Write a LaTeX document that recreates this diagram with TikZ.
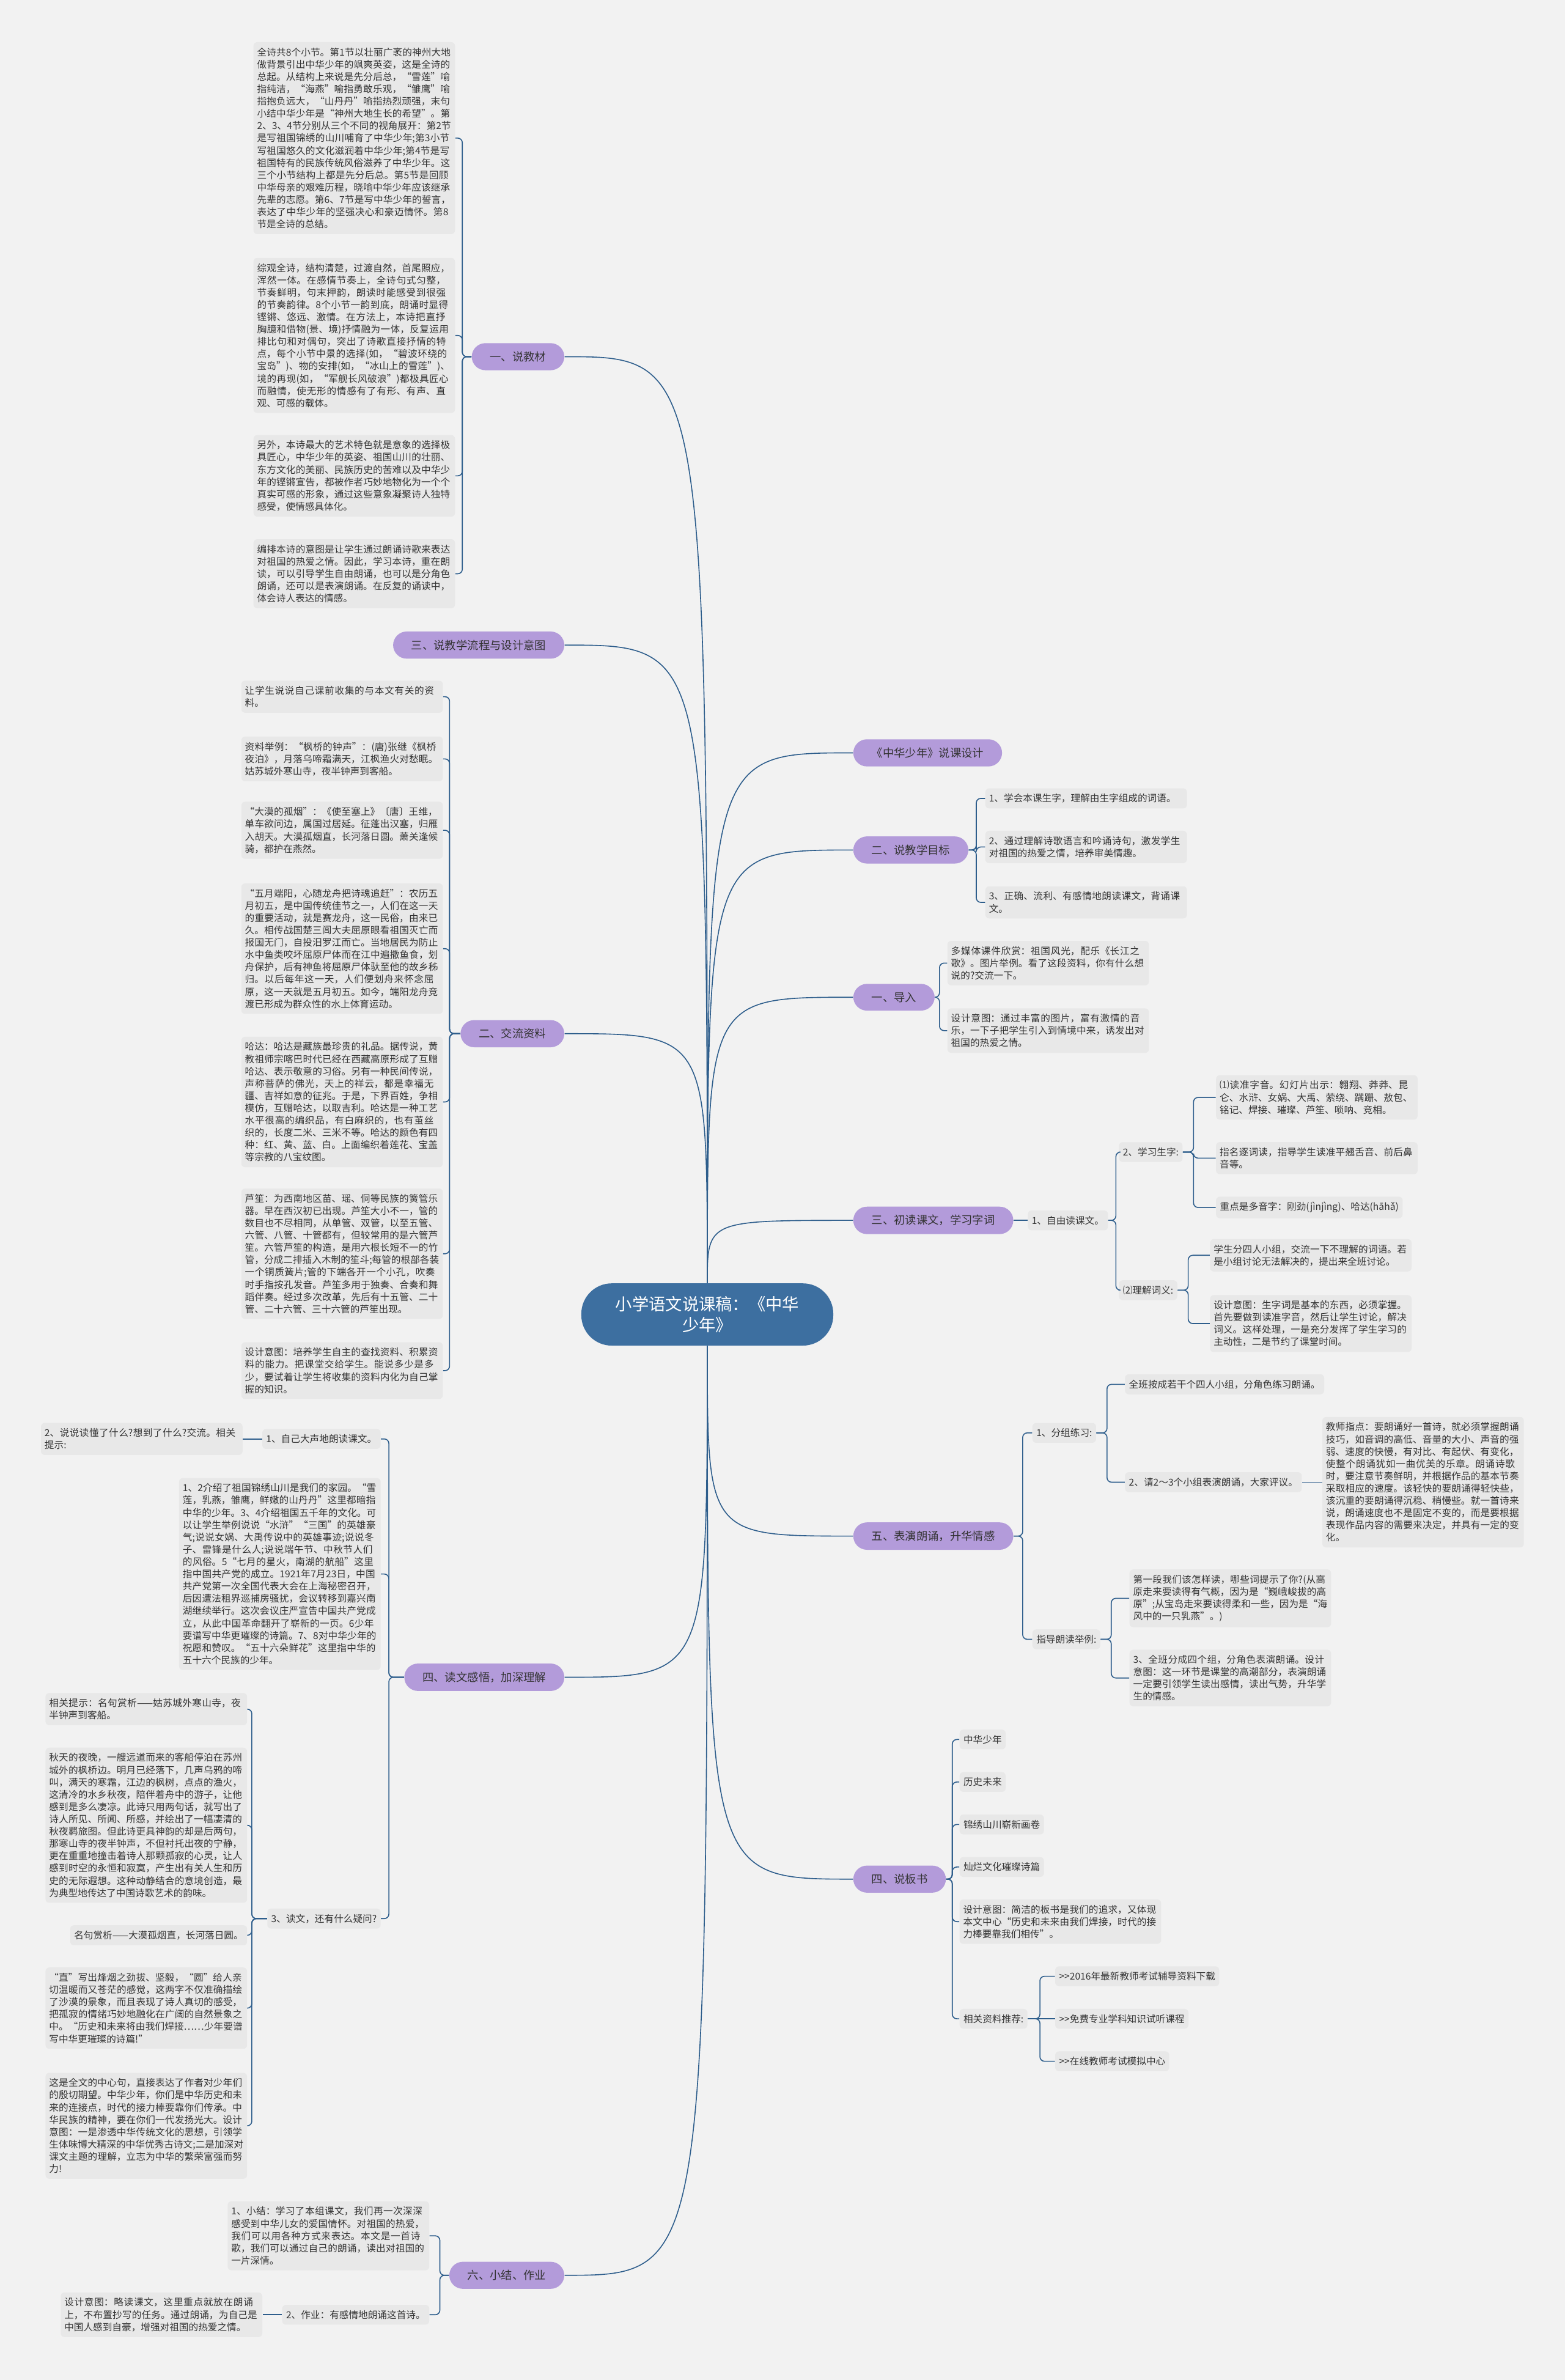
\documentclass[tikz,border=0pt]{standalone}
\usepackage{fontspec}
\setmainfont{Noto Sans CJK SC}
\XeTeXlinebreaklocale "zh"
\XeTeXlinebreakskip=0pt plus 1pt
\definecolor{bggray}{HTML}{F2F2F2}
\definecolor{boxgray}{HTML}{E8E8E8}
\definecolor{linkblue}{HTML}{2E5E8C}
\definecolor{rootblue}{HTML}{3D6FA0}
\definecolor{topicpurple}{HTML}{B39BDA}
\definecolor{inkgray}{HTML}{333333}
\newcommand{\bodysize}{\fontsize{6.3pt}{8.1pt}\selectfont}
\newcommand{\topicsize}{\fontsize{7.4pt}{9pt}\selectfont}
\newcommand{\rootsize}{\fontsize{11pt}{13.6pt}\selectfont}

\begin{document}
\begin{tikzpicture}[x=1pt, y=-1pt,
    root/.style={fill=rootblue, text=white, font=\rootsize, align=center, rounded corners=20pt, minimum width=166pt, minimum height=41pt},
    topic/.style={fill=topicpurple, text=inkgray, font=\topicsize, rounded corners=9pt, inner xsep=12pt, inner ysep=5.5pt},
    note/.style={fill=boxgray, text=inkgray, font=\bodysize, rounded corners=2.5pt, inner xsep=2.4pt, inner ysep=3.6pt, align=left, text width=128pt},
    tag/.style={fill=boxgray, text=inkgray, font=\bodysize, rounded corners=2.5pt, inner xsep=2.6pt, inner ysep=3.6pt},
    link/.style={draw=linkblue, line width=0.65pt, rounded corners=3pt},
    trunk/.style={to path={.. controls (\tikztostart |- \tikztotarget) .. (\tikztotarget)}},
    tol/.style={to path={-- ++(-#1,0) |- (\tikztotarget)}},
    tor/.style={to path={-- ++(#1,0) |- (\tikztotarget)}}]
    % Background and page size
    \fill[bggray] (0,0) rectangle (1031,1568);
    \useasboundingbox (0,0) rectangle (1031,1568);
    % Root
    \node[root] (ctr) at (466,866) {小学语文说课稿：《中华\\少年》};
    % Left topics
    \node[topic, anchor=east] (jc) at (372,235) {一、说教材};
    \node[topic, anchor=east] (lc) at (372,425) {三、说教学流程与设计意图};
    \node[topic, anchor=east] (zl) at (372,681) {二、交流资料};
    \node[topic, anchor=east] (dw) at (372,1105) {四、读文感悟，加深理解};
    \node[topic, anchor=east] (xj) at (372,1499) {六、小结、作业};
    % Right topics
    \node[topic, anchor=west] (sk) at (562,496) {《中华少年》说课设计};
    \node[topic, anchor=west] (mb) at (562,560) {二、说教学目标};
    \node[topic, anchor=west] (dr) at (562,657) {一、导入};
    \node[topic, anchor=west] (cd) at (562,804) {三、初读课文，学习字词};
    \node[topic, anchor=west] (by) at (562,1012) {五、表演朗诵，升华情感};
    \node[topic, anchor=west] (bs) at (562,1238) {四、说板书};
    % Trunks
    \foreach \t in {jc,lc,zl} \draw[link] (ctr.north) to[trunk] (\t.east);
    \foreach \t in {dw,xj} \draw[link] (ctr.south) to[trunk] (\t.east);
    \foreach \t in {sk,mb,dr,cd} \draw[link] (ctr.north) to[trunk] (\t.west);
    \foreach \t in {by,bs} \draw[link] (ctr.south) to[trunk] (\t.west);

    % 一、说教材
    \node[note, anchor=east] (jc1) at (300,91) {全诗共8个小节。第1节以壮丽广袤的神州大地做背景引出中华少年的飒爽英姿，这是全诗的总起。从结构上来说是先分后总，“雪莲”喻指纯洁，“海燕”喻指勇敢乐观，“雏鹰”喻指抱负远大，“山丹丹”喻指热烈顽强，末句小结中华少年是“神州大地生长的希望”。第2、3、4节分别从三个不同的视角展开：第2节是写祖国锦绣的山川哺育了中华少年;第3小节写祖国悠久的文化滋润着中华少年;第4节是写祖国特有的民族传统风俗滋养了中华少年。这三个小节结构上都是先分后总。第5节是回顾中华母亲的艰难历程，晓喻中华少年应该继承先辈的志愿。第6、7节是写中华少年的誓言，表达了中华少年的坚强决心和豪迈情怀。第8节是全诗的总结。};
    \node[note, anchor=east] (jc2) at (300,221) {综观全诗，结构清楚，过渡自然，首尾照应，浑然一体。在感情节奏上，全诗句式匀整，节奏鲜明，句末押韵，朗读时能感受到很强的节奏韵律。8个小节一韵到底，朗诵时显得铿锵、悠远、激情。在方法上，本诗把直抒胸臆和借物(景、境)抒情融为一体，反复运用排比句和对偶句，突出了诗歌直接抒情的特点，每个小节中景的选择(如，“碧波环绕的宝岛”)、物的安排(如，“冰山上的雪莲”)、境的再现(如，“军舰长风破浪”)都极具匠心而融情，使无形的情感有了有形、有声、直观、可感的载体。};
    \node[note, anchor=east] (jc3) at (300,313.5) {另外，本诗最大的艺术特色就是意象的选择极具匠心，中华少年的英姿、祖国山川的壮丽、东方文化的美丽、民族历史的苦难以及中华少年的铿锵宣告，都被作者巧妙地物化为一个个真实可感的形象，通过这些意象凝聚诗人独特感受，使情感具体化。};
    \node[note, anchor=east] (jc4) at (300,378) {编排本诗的意图是让学生通过朗诵诗歌来表达对祖国的热爱之情。因此，学习本诗，重在朗读，可以引导学生自由朗诵，也可以是分角色朗诵，还可以是表演朗诵。在反复的诵读中，体会诗人表达的情感。};
    \foreach \c in {jc1,jc2,jc3,jc4} \draw[link] (jc.west) to[tol=6] (\c.east);

    % 二、交流资料
    \node[note, anchor=east] (zl1) at (292,459) {让学生说说自己课前收集的与本文有关的资料。};
    \node[note, anchor=east] (zl2) at (292,500) {资料举例：“枫桥的钟声”：(唐)张继《枫桥夜泊》，月落乌啼霜满天，江枫渔火对愁眠。姑苏城外寒山寺，夜半钟声到客船。};
    \node[note, anchor=east] (zl3) at (292,547) {“大漠的孤烟”：《使至塞上》〔唐〕王维，单车欲问边，属国过居延。征蓬出汉塞，归雁入胡天。大漠孤烟直，长河落日圆。萧关逢候骑，都护在燕然。};
    \node[note, anchor=east] (zl4) at (292,625) {“五月端阳，心随龙舟把诗魂追赶”：农历五月初五，是中国传统佳节之一，人们在这一天的重要活动，就是赛龙舟，这一民俗，由来已久。相传战国楚三闾大夫屈原眼看祖国灭亡而报国无门，自投汨罗江而亡。当地居民为防止水中鱼类咬坏屈原尸体而在江中遍撒鱼食，划舟保护，后有神鱼将屈原尸体驮至他的故乡秭归。以后每年这一天，人们便划舟来怀念屈原，这一天就是五月初五。如今，端阳龙舟竞渡已形成为群众性的水上体育运动。};
    \node[note, anchor=east] (zl5) at (292,726) {哈达：哈达是藏族最珍贵的礼品。据传说，黄教祖师宗喀巴时代已经在西藏高原形成了互赠哈达、表示敬意的习俗。另有一种民间传说，声称菩萨的佛光，天上的祥云，都是幸福无疆、吉祥如意的征兆。于是，下界百姓，争相模仿，互赠哈达，以取吉利。哈达是一种工艺水平很高的编织品，有白麻织的，也有茧丝织的，长度二米、三米不等。哈达的颜色有四种：红、黄、蓝、白。上面编织着莲花、宝盖等宗教的八宝纹图。};
    \node[note, anchor=east] (zl6) at (292,826) {芦笙：为西南地区苗、瑶、侗等民族的簧管乐器。早在西汉初已出现。芦笙大小不一，管的数目也不尽相同，从单管、双管，以至五管、六管、八管、十管都有，但较常用的是六管芦笙。六管芦笙的构造，是用六根长短不一的竹管，分成二排插入木制的笙斗;每管的根部各装一个铜质簧片;管的下端各开一个小孔，吹奏时手指按孔发音。芦笙多用于独奏、合奏和舞蹈伴奏。经过多次改革，先后有十五管、二十管、二十六管、三十六管的芦笙出现。};
    \node[note, anchor=east] (zl7) at (292,903) {设计意图：培养学生自主的查找资料、积累资料的能力。把课堂交给学生。能说多少是多少，要试着让学生将收集的资料内化为自己掌握的知识。};
    \foreach \c in {zl1,zl2,zl3,zl4,zl5,zl6,zl7} \draw[link] (zl.west) to[tol=7] (\c.east);

    % 四、读文感悟，加深理解
    \node[tag, anchor=east] (d1) at (251,948) {1、自己大声地朗读课文。};
    \node[note, anchor=east] (d1a) at (160,948) {2、说说读懂了什么?想到了什么?交流。相关提示:};
    \node[note, anchor=east] (d2) at (251,1037) {1、2介绍了祖国锦绣山川是我们的家园。“雪莲，乳燕，雏鹰，鲜嫩的山丹丹”这里都暗指中华的少年。3、4介绍祖国五千年的文化。可以让学生举例说说“水浒”“三国”的英雄豪气;说说女娲、大禹传说中的英雄事迹;说说冬子、雷锋是什么人;说说端午节、中秋节人们的风俗。5“七月的星火，南湖的航船”这里指中国共产党的成立。1921年7月23日，中国共产党第一次全国代表大会在上海秘密召开，后因遭法租界巡捕房骚扰，会议转移到嘉兴南湖继续举行。这次会议庄严宣告中国共产党成立，从此中国革命翻开了崭新的一页。6少年要谱写中华更璀璨的诗篇。7、8对中华少年的祝愿和赞叹。“五十六朵鲜花”这里指中华的五十六个民族的少年。};
    \node[tag, anchor=east] (d3) at (251,1264) {3、读文，还有什么疑问?};
    \node[note, anchor=east] (d3a) at (163,1126) {相关提示：名句赏析——姑苏城外寒山寺，夜半钟声到客船。};
    \node[note, anchor=east] (d3b) at (163,1202.5) {秋天的夜晚，一艘远道而来的客船停泊在苏州城外的枫桥边。明月已经落下，几声乌鸦的啼叫，满天的寒霜，江边的枫树，点点的渔火，这清冷的水乡秋夜，陪伴着舟中的游子，让他感到是多么凄凉。此诗只用两句话，就写出了诗人所见、所闻、所感，并绘出了一幅凄清的秋夜羁旅图。但此诗更具神韵的却是后两句，那寒山寺的夜半钟声，不但衬托出夜的宁静，更在重重地撞击着诗人那颗孤寂的心灵，让人感到时空的永恒和寂寞，产生出有关人生和历史的无际遐想。这种动静结合的意境创造，最为典型地传达了中国诗歌艺术的韵味。};
    \node[tag, anchor=east] (d3c) at (163,1275) {名句赏析——大漠孤烟直，长河落日圆。};
    \node[note, anchor=east] (d3d) at (163,1323) {“直”写出烽烟之劲拔、坚毅，“圆”给人亲切温暖而又苍茫的感觉，这两字不仅准确描绘了沙漠的景象，而且表现了诗人真切的感受，把孤寂的情绪巧妙地融化在广阔的自然景象之中。“历史和未来将由我们焊接……少年要谱写中华更璀璨的诗篇!”};
    \node[note, anchor=east] (d3e) at (163,1400.5) {这是全文的中心句，直接表达了作者对少年们的殷切期望。中华少年，你们是中华历史和未来的连接点，时代的接力棒要靠你们传承。中华民族的精神，要在你们一代发扬光大。设计意图：一是渗透中华传统文化的思想，引领学生体味博大精深的中华优秀古诗文;二是加深对课文主题的理解，立志为中华的繁荣富强而努力!};
    \foreach \c in {d1,d2,d3} \draw[link] (dw.west) to[tol=10] (\c.east);
    \draw[link] (d1.west) -- (d1a.east);
    \foreach \c in {d3a,d3b,d3c,d3d,d3e} \draw[link] (d3.west) to[tol=10] (\c.east);

    % 六、小结、作业
    \node[note, anchor=east] (e1) at (283,1473) {1、小结：学习了本组课文，我们再一次深深感受到中华儿女的爱国情怀。对祖国的热爱，我们可以用各种方式来表达。本文是一首诗歌，我们可以通过自己的朗诵，读出对祖国的一片深情。};
    \node[tag, anchor=east] (e2) at (283,1525) {2、作业：有感情地朗诵这首诗。};
    \node[note, anchor=east] (e2a) at (173,1525) {设计意图：略读课文，这里重点就放在朗诵上，不布置抄写的任务。通过朗诵，为自己是中国人感到自豪，增强对祖国的热爱之情。};
    \foreach \c in {e1,e2} \draw[link] (xj.west) to[tol=6] (\c.east);
    \draw[link] (e2.west) -- (e2a.east);

    % 二、说教学目标
    \node[note, anchor=west] (g1) at (649,526) {1、学会本课生字，理解由生字组成的词语。};
    \node[note, anchor=west] (g2) at (649,558) {2、通过理解诗歌语言和吟诵诗句，激发学生对祖国的热爱之情，培养审美情趣。};
    \node[note, anchor=west] (g3) at (649,594.5) {3、正确、流利、有感情地朗读课文，背诵课文。};
    \foreach \c in {g1,g2,g3} \draw[link] (mb.east) to[tor=5] (\c.west);

    % 一、导入
    \node[note, anchor=west] (i1) at (624,634.5) {多媒体课件欣赏：祖国风光，配乐《长江之歌》。图片举例。看了这段资料，你有什么想说的?交流一下。};
    \node[note, anchor=west] (i2) at (624,679) {设计意图：通过丰富的图片，富有激情的音乐，一下子把学生引入到情境中来，诱发出对祖国的热爱之情。};
    \foreach \c in {i1,i2} \draw[link] (dr.east) to[tor=3] (\c.west);

    % 三、初读课文，学习字词
    \node[tag, anchor=west] (f1) at (677,804) {1、自由读课文。};
    \node[tag, anchor=west] (f2) at (737,759) {2、学习生字:};
    \node[tag, anchor=west] (f3) at (737,850) {⑵理解词义:};
    \node[note, anchor=west] (f2a) at (801,723) {⑴读准字音。幻灯片出示：翱翔、莽莽、昆仑、水浒、女娲、大禹、萦绕、蹒跚、敖包、铭记、焊接、璀璨、芦笙、唢呐、竞相。};
    \node[note, anchor=west] (f2b) at (801,763) {指名逐词读，指导学生读准平翘舌音、前后鼻音等。};
    \node[tag, anchor=west] (f2c) at (801,795.5) {重点是多音字：刚劲(jìnjìng)、哈达(hāhǎ)};
    \node[note, anchor=west] (f3a) at (797,827) {学生分四人小组，交流一下不理解的词语。若是小组讨论无法解决的，提出来全班讨论。};
    \node[note, anchor=west] (f3b) at (797,872) {设计意图：生字词是基本的东西，必须掌握。首先要做到读准字音，然后让学生讨论，解决词义。这样处理，一是充分发挥了学生学习的主动性，二是节约了课堂时间。};
    \draw[link] (cd.east) -- (f1.west);
    \foreach \c in {f2,f3} \draw[link] (f1.east) to[tor=5] (\c.west);
    \foreach \c in {f2a,f2b,f2c} \draw[link] (f2.east) to[tor=7] (\c.west);
    \foreach \c in {f3a,f3b} \draw[link] (f3.east) to[tor=7] (\c.west);

    % 五、表演朗诵，升华情感
    \node[tag, anchor=west] (p1) at (680,944) {1、分组练习:};
    \node[tag, anchor=west] (p2) at (680,1080) {指导朗读举例:};
    \node[tag, anchor=west] (p1a) at (741,912) {全班按成若干个四人小组，分角色练习朗诵。};
    \node[tag, anchor=west] (p1b) at (741,976.5) {2、请2～3个小组表演朗诵，大家评议。};
    \node[note, anchor=west] (p1c) at (871,976.5) {教师指点：要朗诵好一首诗，就必须掌握朗诵技巧，如音调的高低、音量的大小、声音的强弱、速度的快慢，有对比、有起伏、有变化，使整个朗诵犹如一曲优美的乐章。朗诵诗歌时，要注意节奏鲜明，并根据作品的基本节奏采取相应的速度。该轻快的要朗诵得轻快些，该沉重的要朗诵得沉稳、稍慢些。就一首诗来说，朗诵速度也不是固定不变的，而是要根据表现作品内容的需要来决定，并具有一定的变化。};
    \node[note, anchor=west] (p2a) at (744,1053) {第一段我们该怎样读，哪些词提示了你?(从高原走来要读得有气概，因为是“巍峨峻拔的高原”;从宝岛走来要读得柔和一些，因为是“海风中的一只乳燕”。)};
    \node[note, anchor=west] (p2b) at (744,1105.5) {3、全班分成四个组，分角色表演朗诵。设计意图：这一环节是课堂的高潮部分，表演朗诵一定要引领学生读出感情，读出气势，升华学生的情感。};
    \foreach \c in {p1,p2} \draw[link] (by.east) to[tor=6] (\c.west);
    \foreach \c in {p1a,p1b} \draw[link] (p1.east) to[tor=7] (\c.west);
    \draw[link] (p1b.east) -- (p1c.west);
    \foreach \c in {p2a,p2b} \draw[link] (p2.east) to[tor=7] (\c.west);

    % 四、说板书
    \node[tag, anchor=west] (k1) at (632,1146) {中华少年};
    \node[tag, anchor=west] (k2) at (632,1174) {历史未来};
    \node[tag, anchor=west] (k3) at (632,1202) {锦绣山川崭新画卷};
    \node[tag, anchor=west] (k4) at (632,1230) {灿烂文化璀璨诗篇};
    \node[note, anchor=west] (k5) at (632,1266) {设计意图：简洁的板书是我们的追求，又体现本文中心“历史和未来由我们焊接，时代的接力棒要靠我们相传”。};
    \node[tag, anchor=west] (k6) at (632,1330) {相关资料推荐:};
    \node[tag, anchor=west] (k6a) at (695,1302) {>{}>2016年最新教师考试辅导资料下载};
    \node[tag, anchor=west] (k6b) at (695,1330) {>{}>免费专业学科知识试听课程};
    \node[tag, anchor=west] (k6c) at (695,1358) {>{}>在线教师考试模拟中心};
    \foreach \c in {k1,k2,k3,k4,k5,k6} \draw[link] (bs.east) to[tor=4] (\c.west);
    \foreach \c in {k6a,k6c} \draw[link] (k6.east) to[tor=8] (\c.west);
    \draw[link] (k6.east) -- (k6b.west);
\end{tikzpicture}
\end{document}
